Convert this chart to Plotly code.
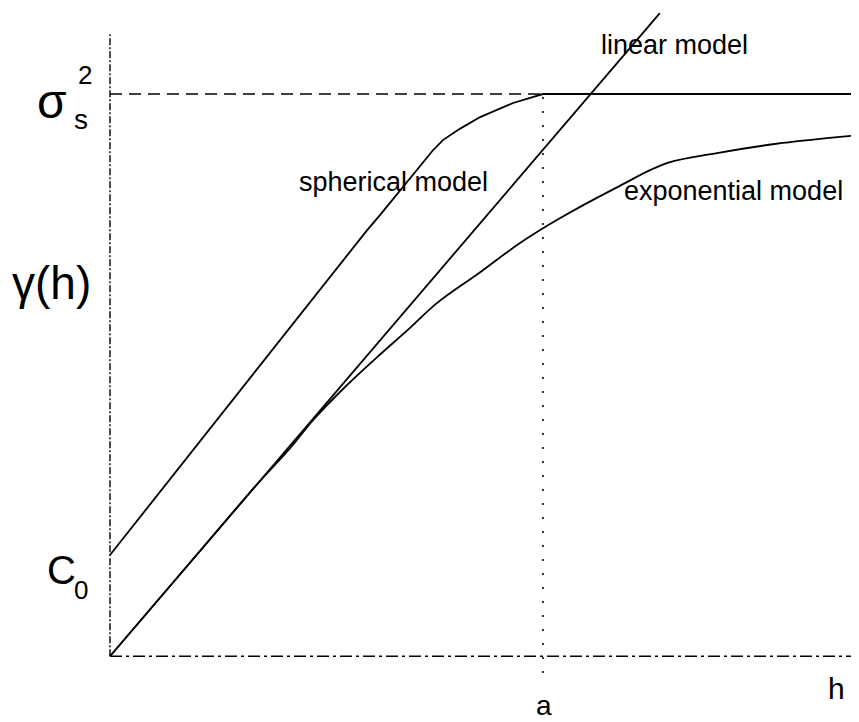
import plotly.graph_objects as go

# Model quantities (units: range a = 1, sill sigma_s^2 = 1)
RANGE_A = 1.0
SILL = 1.0
NUGGET = 0.18

# Spherical model
sph_h = [0.0, 0.594, 0.624, 0.746, 0.769, 0.808, 0.855, 0.931, 1.0, 1.73]
sph_g = [0.18, 0.758, 0.785, 0.900, 0.918, 0.938, 0.959, 0.984, 1.0, 1.0]

# Linear model
lin_h = [0.0, 1.27]
lin_g = [0.0, 1.144]

# Exponential model
exp_h = [0.0, 0.2, 0.339, 0.416, 0.469, 0.547, 0.617, 0.693, 0.755, 0.855,
         0.947, 1.039, 1.171, 1.286, 1.402, 1.554, 1.73]
exp_g = [0.0, 0.18, 0.305, 0.370, 0.420, 0.482, 0.532, 0.584, 0.628, 0.683,
         0.735, 0.779, 0.834, 0.877, 0.895, 0.913, 0.927]

# visible window (the page body adds an 8px offset, the range starts there)
X_RANGE = [-0.2356, 1.730]
Y_RANGE = [-0.117, 1.153]
Y_AXIS_TOP = 1.109
A_LINE_BOTTOM = -0.03

FONT = "Liberation Sans, Arial, sans-serif"

fig = go.Figure()

line_style = dict(color="black", width=1.8)
fig.add_trace(go.Scatter(x=sph_h, y=sph_g, mode="lines", line=line_style, name="spherical"))
fig.add_trace(go.Scatter(x=lin_h, y=lin_g, mode="lines", line=line_style, name="linear"))
fig.add_trace(go.Scatter(x=exp_h, y=exp_g, mode="lines",
                         line=dict(color="black", width=1.8, shape="spline", smoothing=1.0),
                         name="exponential"))

# axes and reference lines
fig.add_trace(go.Scatter(x=[0, 0], y=[0, Y_AXIS_TOP], mode="lines",
                         line=dict(color="black", width=1.4, dash="7px,2px,2px,2px")))
fig.add_trace(go.Scatter(x=[0, X_RANGE[1]], y=[0, 0], mode="lines",
                         line=dict(color="black", width=1.4, dash="12px,4px,3px,4px")))
fig.add_trace(go.Scatter(x=[0, RANGE_A], y=[SILL, SILL], mode="lines",
                         line=dict(color="black", width=1.4, dash="12px,7px")))
fig.add_trace(go.Scatter(x=[RANGE_A, RANGE_A], y=[A_LINE_BOTTOM, SILL], mode="lines",
                         line=dict(color="black", width=1.6, dash="2px,12px")))

def ann(x, y, text, size, xanchor="center", yanchor="middle"):
    fig.add_annotation(x=x, y=y, text=text, showarrow=False, xanchor=xanchor,
                       yanchor=yanchor, borderpad=0,
                       font=dict(family=FONT, size=size, color="black"))

ann(0.654, 0.843, "spherical model", 27)
ann(1.303, 1.087, "linear model", 27)
ann(1.441, 0.827, "exponential model", 27)
ann(-0.134, 0.986, "σ", 48)
ann(-0.066, 0.954, "s", 28)
ann(-0.058, 1.034, "2", 26)
ann(-0.134, 0.664, "γ(h)", 46)
ann(-0.113, 0.153, "C", 40)
ann(-0.067, 0.117, "0", 26)
ann(1.002, -0.088, "a", 28)
ann(1.677, -0.057, "h", 30)

fig.update_layout(
    width=851, height=714, autosize=False,
    margin=dict(l=0, r=0, t=0, b=0),
    paper_bgcolor="white", plot_bgcolor="white",
    showlegend=False,
    xaxis=dict(range=X_RANGE, visible=False, fixedrange=True),
    yaxis=dict(range=Y_RANGE, visible=False, fixedrange=True),
)

fig.write_html("out.html", config={"displayModeBar": False})
